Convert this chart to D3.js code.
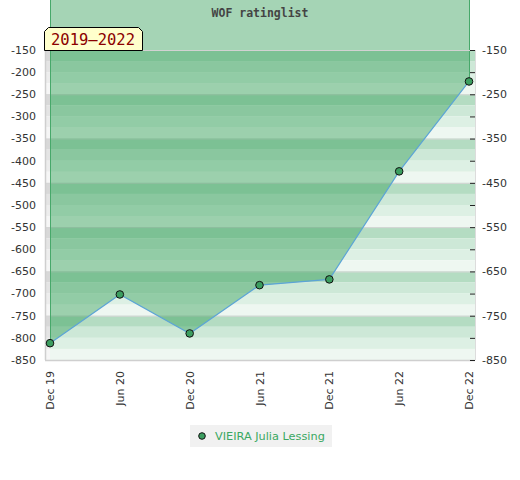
<!DOCTYPE html>
<html>
<head>
<meta charset="utf-8">
<script src="https://cdn.jsdelivr.net/npm/d3@7"></script>
<style>
  body { margin: 0; background: #fff; }
  text { font-family: "DejaVu Sans", sans-serif; }
</style>
</head>
<body>
<script>
// chart data
var months = ["Dec 19", "Jun 20", "Dec 20", "Jun 21", "Dec 21", "Jun 22", "Dec 22"];
var rating = [-812, -702, -790, -681, -668, -424, -221];
var leftTicks = [-150, -200, -250, -300, -350, -400, -450, -500, -550, -600, -650, -700, -750, -800, -850];
var rightLabels = [-150, -250, -350, -450, -550, -650, -750, -850];
var seriesName = "VIEIRA Julia Lessing";
var title = "WOF ratinglist";
var period = "2019–2022";

var W = 520, H = 480;
var plot = { left: 45, right: 475, top: 50, bottom: 360 };

var svg = d3.select("body").append("svg").attr("width", W).attr("height", H);

var x = d3.scalePoint().domain(months).range([50, 469]);
var y = d3.scaleLinear().domain([-150, -850]).range([plot.top, plot.bottom]);

// striped background, four bands per 100 points
var greens = ["#b4dcc2", "#cde8d7", "#ddf0e4", "#eef7f1"];
var grays = ["#d8d8d8", "#e4e4e4", "#ededed", "#f6f6f6"];
var bands = [];
for (var v = -150; v > -850; v -= 25) bands.push(v);
svg.selectAll("rect.band").data(bands).enter().append("rect")
    .attr("class", "band")
    .attr("x", 50).attr("width", plot.right - 50)
    .attr("y", function (d) { return y(d); })
    .attr("height", function (d) { return y(d - 25) - y(d); })
    .attr("fill", function (d, i) { return greens[i % 4]; });
svg.selectAll("rect.gband").data(bands).enter().append("rect")
    .attr("class", "gband")
    .attr("x", plot.left).attr("width", 5)
    .attr("y", function (d) { return y(d); })
    .attr("height", function (d) { return y(d - 25) - y(d); })
    .attr("fill", function (d, i) { return grays[i % 4]; });

// grid lines
svg.selectAll("line.grid").data(rightLabels).enter().append("line")
    .attr("class", "grid")
    .attr("x1", plot.left).attr("x2", plot.right)
    .attr("y1", function (d) { return y(d) + 0.5; })
    .attr("y2", function (d) { return y(d) + 0.5; })
    .attr("stroke", "#d6d6d6");

// filled area from the line up to the top of the picture
var area = d3.area()
    .x(function (d, i) { return x(months[i]); })
    .y0(0)
    .y1(function (d) { return y(d); });
svg.append("path").datum(rating).attr("d", area)
    .attr("fill", "rgb(59,161,94)").attr("fill-opacity", 0.46);

// side edges of the area
[0, rating.length - 1].forEach(function (i) {
    svg.append("line")
        .attr("x1", x(months[i]) + 0.5).attr("x2", x(months[i]) + 0.5)
        .attr("y1", 0).attr("y2", y(rating[i]))
        .attr("stroke", "#47a86a");
});

// frame
svg.append("line").attr("x1", plot.left).attr("x2", plot.right)
    .attr("y1", plot.top + 0.5).attr("y2", plot.top + 0.5).attr("stroke", "#d2d2d2");
svg.append("line").attr("x1", plot.left).attr("x2", plot.right)
    .attr("y1", plot.bottom + 0.5).attr("y2", plot.bottom + 0.5).attr("stroke", "#cfcfcf").attr("stroke-width", 1.5);
svg.append("line").attr("x1", plot.left + 0.5).attr("x2", plot.left + 0.5)
    .attr("y1", plot.top).attr("y2", plot.bottom).attr("stroke", "#cfcfcf").attr("stroke-width", 1.5);
svg.append("line").attr("x1", plot.right + 0.5).attr("x2", plot.right + 0.5)
    .attr("y1", plot.top).attr("y2", plot.bottom).attr("stroke", "#dcdcdc");

// line and points
var line = d3.line()
    .x(function (d, i) { return x(months[i]); })
    .y(function (d) { return y(d); });
svg.append("path").datum(rating).attr("d", line)
    .attr("fill", "none").attr("stroke", "#5ca4d6").attr("stroke-width", 1.2);
svg.selectAll("circle.pt").data(rating).enter().append("circle")
    .attr("class", "pt")
    .attr("cx", function (d, i) { return x(months[i]); })
    .attr("cy", function (d) { return y(d); })
    .attr("r", 3.8)
    .attr("fill", "#3c9e60").attr("stroke", "#111").attr("stroke-width", 1);

// left axis labels
svg.selectAll("text.yl").data(leftTicks).enter().append("text")
    .attr("class", "yl")
    .attr("x", 36).attr("y", function (d) { return y(d); })
    .attr("dy", "0.35em").attr("text-anchor", "end")
    .attr("font-size", 11).attr("fill", "#333")
    .text(function (d) { return d; });

// right axis ticks and labels
svg.selectAll("line.rt").data(leftTicks).enter().append("line")
    .attr("class", "rt")
    .attr("x1", 470).attr("x2", plot.right)
    .attr("y1", function (d) { return y(d) + 0.5; })
    .attr("y2", function (d) { return y(d) + 0.5; })
    .attr("stroke", "#222");
svg.selectAll("text.yr").data(rightLabels).enter().append("text")
    .attr("class", "yr")
    .attr("x", 482).attr("y", function (d) { return y(d); })
    .attr("dy", "0.35em")
    .attr("font-size", 11).attr("fill", "#333")
    .text(function (d) { return d; });

// x labels
svg.selectAll("text.xl").data(months).enter().append("text")
    .attr("class", "xl")
    .attr("transform", function (d) { return "translate(" + (x(d) + 4) + ",371) rotate(-90)"; })
    .attr("text-anchor", "end")
    .attr("font-size", 11).attr("fill", "#333")
    .text(function (d) { return d; });

// title
svg.append("text")
    .attr("x", 260).attr("y", 17)
    .attr("text-anchor", "middle")
    .style("font-family", "'DejaVu Sans Mono', monospace")
    .attr("font-weight", "bold")
    .attr("font-size", 11.5).attr("fill", "#444")
    .text(title);

// period label box
svg.append("path")
    .attr("d", "M44.5,50.5 L44.5,31.5 L48.5,27.5 L138.5,27.5 L142.5,31.5 L142.5,50.5 Z")
    .attr("fill", "#ffffcc").attr("stroke", "#000");
svg.append("text")
    .attr("x", 93).attr("y", 45)
    .attr("text-anchor", "middle")
    .style("font-family", "'DejaVu Sans Mono', monospace")
    .attr("font-size", 15.5).attr("fill", "#8b0000")
    .text(period);

// legend
svg.append("rect").attr("x", 190).attr("y", 425).attr("width", 142).attr("height", 22)
    .attr("fill", "#f1f1f1");
svg.append("circle").attr("cx", 202).attr("cy", 436).attr("r", 3.3)
    .attr("fill", "#3c9e60").attr("stroke", "#111");
svg.append("text").attr("x", 215).attr("y", 440)
    .attr("font-size", 11.3).attr("fill", "#3aa862")
    .text(seriesName);
</script>
</body>
</html>
